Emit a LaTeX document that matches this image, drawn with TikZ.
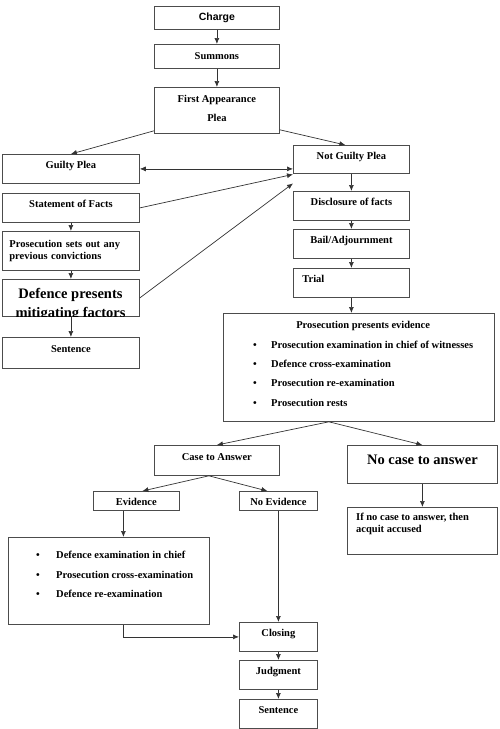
\documentclass[tikz,border=0pt]{standalone}
\usepackage{fontspec}
\setmainfont{Liberation Serif}
\newfontfamily\chargefont{Liberation Sans}
\usetikzlibrary{arrows.meta}
\newcommand{\smallbold}{\fontsize{10.5}{12.5}\selectfont\bfseries}
\newcommand{\bigbold}{\fontsize{14.5}{19.5}\selectfont\bfseries}
\tikzset{
  stage/.style={rectangle, draw=black!70, line width=0.8pt, inner sep=0pt, anchor=north west, font=\smallbold},
  oneline/.style={text height=7.5pt, text depth=7.5pt},
  midline/.style={text height=7.5pt, text depth=2pt},
  lowline/.style={text height=10pt, text depth=0pt},
  listtext/.style={inner sep=0pt, anchor=north west, font=\smallbold},
  flow/.style={draw=black!80, line width=0.7pt, -{Latex[length=6pt, width=5pt]}},
  twoway/.style={flow, {Latex[length=6pt, width=5pt]}-{Latex[length=6pt, width=5pt]}},
}

\begin{document}
\begin{tikzpicture}[x=1pt, y=-1pt]
    \useasboundingbox (0,0) rectangle (500,729);

    % Opening
    \node[stage, midline, minimum width=125, minimum height=23, font=\chargefont\fontsize{10.5}{12.5}\selectfont\bfseries] (charge) at (154,6) {Charge};
    \node[stage, midline, minimum width=125, minimum height=24] (summons) at (154,44) {Summons};
    \draw[flow] (charge.south) -- (summons.north);
    \node[stage, align=center, text depth=5pt, minimum width=125, minimum height=46, font=\fontsize{10.5}{19}\selectfont\bfseries] (first) at (154,87) {First Appearance\\Plea};
    \draw[flow] (summons.south) -- (first.north);

    % Guilty plea
    \node[stage, oneline, minimum width=137, minimum height=29] (guilty) at (2,154) {Guilty Plea};
    \node[stage, oneline, minimum width=137, minimum height=29] (facts) at (2,193) {Statement of Facts};
    \node[stage, align=left, text width=123pt, inner xsep=7pt, minimum width=137, minimum height=39] (prevconv) at (2,231) {Prosecution sets out any\\previous convictions};
    \node[stage, minimum width=137, minimum height=37] (mitig) at (2,279) {};
    \begin{scope}
      \clip (mitig.north west) rectangle (mitig.south east);
      \node[align=center, inner sep=0pt, anchor=north, font=\bigbold] (mitigtext) at (70.5,288) {Defence presents\\mitigating factors};
    \end{scope}
    \node[stage, oneline, minimum width=137, minimum height=31] (sentence1) at (2,337) {Sentence};
    \draw[flow] (facts.south) -- (prevconv.north);
    \draw[flow] (prevconv.south) -- (mitig.north);
    \draw[flow] (mitig.south) -- (sentence1.north);

    % Not guilty plea
    \node[stage, oneline, minimum width=116, minimum height=28] (notguilty) at (293,145) {Not Guilty Plea};
    \node[stage, oneline, minimum width=116, minimum height=29] (disclosure) at (293,191) {Disclosure of facts};
    \node[stage, oneline, minimum width=116, minimum height=29] (bail) at (293,229) {Bail/Adjournment};
    \node[stage, oneline, align=left, text width=98pt, inner xsep=9pt, minimum width=116, minimum height=29] (trial) at (293,268) {Trial};
    \draw[flow] (notguilty.south) -- (disclosure.north);
    \draw[flow] (disclosure.south) -- (bail.north);
    \draw[flow] (bail.south) -- (trial.north);

    % Plea links
    \draw[flow] ([yshift=3pt]first.south west) -- (guilty.north);
    \draw[flow] ([yshift=4pt]first.south east) -- ([xshift=-6pt]notguilty.north);
    \draw[twoway] (guilty.east) -- (guilty.east -| notguilty.west);
    \draw[flow] (facts.east) -- ([yshift=-15pt]notguilty.west);
    \draw[flow] (mitig.east) -- ([yshift=-24pt]notguilty.west);

    % Prosecution case
    \node[stage, minimum width=271, minimum height=108] (prosec) at (223,313) {};
    \node[listtext] (prosectext) at (253,315) {\renewcommand\arraystretch{1.55}%
      \begin{tabular}{@{}p{18pt}@{}l@{}}
        \multicolumn{2}{c}{Prosecution presents evidence\hspace{21pt}}\\
        \textbullet & Prosecution examination in chief of witnesses\\
        \textbullet & Defence cross-examination\\
        \textbullet & Prosecution re-examination\\
        \textbullet & Prosecution rests
      \end{tabular}};
    \draw[flow] (trial.south) -- (trial.south |- prosec.north);

    % Case to answer or not
    \node[stage, oneline, minimum width=125, minimum height=30] (cta) at (154,445) {Case to Answer};
    \node[stage, text height=10pt, text depth=10pt, minimum width=150, minimum height=38, font=\bigbold] (nocase) at (347,445) {No case to answer};
    \coordinate (split) at ([xshift=-30pt]prosec.south);
    \draw[flow] (split) -- (cta.north);
    \draw[flow] (split) -- (nocase.north);
    \node[stage, minimum width=150, minimum height=47] (ifnocase) at (347,507) {};
    \node[listtext, align=left, font=\fontsize{10.5}{12}\selectfont\bfseries] (iftext) at (356,513) {If no case to answer, then\\acquit accused};
    \draw[flow] (nocase.south) -- (ifnocase.north);

    % Defence case
    \node[stage, lowline, minimum width=86, minimum height=19] (evidence) at (93,491) {Evidence};
    \node[stage, lowline, minimum width=78, minimum height=19] (noevid) at (239,491) {No Evidence};
    \coordinate (ctasplit) at ([xshift=-8pt]cta.south);
    \draw[flow] (ctasplit) -- ([xshift=6pt]evidence.north);
    \draw[flow] (ctasplit) -- ([xshift=-11pt]noevid.north);
    \node[stage, minimum width=201, minimum height=87] (defexam) at (8,537) {};
    \node[listtext] (defexamtext) at (36,545) {\renewcommand\arraystretch{1.55}%
      \begin{tabular}{@{}p{20pt}@{}l@{}}
        \textbullet & Defence examination in chief\\
        \textbullet & Prosecution cross-examination\\
        \textbullet & Defence re-examination
      \end{tabular}};
    \coordinate (evdrop) at ([xshift=-13pt]evidence.south);
    \draw[flow] (evdrop) -- (evdrop |- defexam.north);

    % Closing
    \node[stage, oneline, minimum width=78, minimum height=29] (closing) at (239,622) {Closing};
    \node[stage, oneline, minimum width=78, minimum height=29] (judgment) at (239,660) {Judgment};
    \node[stage, oneline, minimum width=78, minimum height=29] (sentence2) at (239,699) {Sentence};
    \draw[flow] (evdrop |- defexam.south) |- (closing.west);
    \draw[flow] (noevid.south) -- (closing.north);
    \draw[flow] (closing.south) -- (judgment.north);
    \draw[flow] (judgment.south) -- (sentence2.north);

\end{tikzpicture}
\end{document}
